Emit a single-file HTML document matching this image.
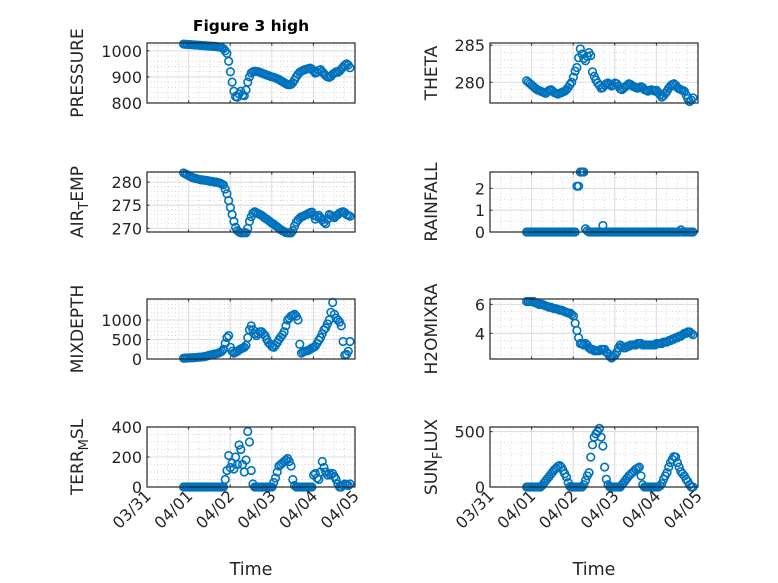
<!DOCTYPE html>
<html><head><meta charset="utf-8"><style>
html,body{margin:0;padding:0;background:#fff;}
svg{display:block;font-family:"DejaVu Sans","Liberation Sans",sans-serif;}
</style></head><body>
<svg id="fig" width="778" height="583" viewBox="0 0 778 583" xmlns="http://www.w3.org/2000/svg">
<rect width="778" height="583" fill="#fff"/>
<text x="251" y="31" text-anchor="middle" font-size="15.5" font-weight="bold" fill="#000">Figure 3 high</text>
</svg>
<script>
const xTickLabels = ["03/31","04/01","04/02","04/03","04/04","04/05"];
const tStart = 0.88;
const pressure = [1026,1025,1025,1024,1024,1023,1023,1022,1022,1021,1021,1020,
1020,1019,1019,1018,1018,1017,1017,1016,1015,1014,1012,1008,
1000,990,960,920,880,845,825,822,835,845,830,828,
850,880,900,915,920,922,921,920,918,915,912,910,
907,905,902,900,898,896,893,890,886,882,878,874,
871,870,872,878,888,900,910,918,922,925,928,930,
932,934,930,922,915,918,925,928,920,912,905,900,
898,902,910,915,920,918,922,930,938,945,950,945,935];
const theta = [280.2,280.0,279.8,279.6,279.4,279.2,279.0,278.9,278.8,278.7,278.6,278.5,
278.7,278.9,279.0,278.8,278.6,278.5,278.4,278.5,278.6,278.7,278.8,279.0,
279.3,279.7,280.0,280.7,281.5,282.0,283.3,284.5,283.8,283.2,282.9,283.5,
284.0,283.6,281.4,280.8,280.3,279.9,279.6,279.2,279.3,279.6,279.8,279.9,
279.7,279.5,279.6,279.9,279.8,279.5,279.1,279.0,279.2,279.4,279.6,279.8,
279.7,279.5,279.4,279.3,279.2,279.3,279.4,279.3,279.0,278.9,278.8,278.9,
279.0,278.9,278.8,278.9,278.6,278.3,278.0,278.2,278.5,278.8,279.2,279.5,
279.7,279.8,279.6,279.3,279.1,279.0,278.9,278.8,278.3,277.8,277.4,277.6,277.9];
const airTemp = [282.0,281.8,281.6,281.4,281.2,281.0,280.9,280.8,280.7,280.6,280.5,280.5,
280.4,280.4,280.3,280.2,280.2,280.1,280.0,280.0,279.9,279.8,279.6,279.4,
278.5,277.5,276.0,274.5,273.0,271.5,270.2,269.5,269.2,269.0,269.0,269.1,
269.0,270.0,271.5,272.5,273.3,273.6,273.4,273.2,273.0,272.8,272.5,272.2,
272.0,271.7,271.4,271.1,270.9,270.6,270.3,270.0,269.7,269.5,269.3,269.1,
269.0,269.0,269.0,269.5,270.5,271.3,271.8,272.2,272.5,272.6,272.8,273.0,
273.2,273.4,273.5,272.8,272.0,272.5,272.8,272.3,271.8,271.3,271.0,272.0,
273.0,272.8,272.5,272.3,272.7,273.0,273.3,273.5,273.6,273.4,273.0,272.8,272.6];
const rainfall = [0,0,0,0,0,0,0,0,0,0,0,0,
0,0,0,0,0,0,0,0,0,0,0,0,
0,0,0,0,0,2.1,2.1,2.75,2.75,2.75,0.15,0.05,
0,0,0,0,0,0,0,0,0.3,0,0,0,
0,0,0,0,0,0,0,0,0,0,0,0,
0,0,0,0,0,0,0,0,0,0,0,0,
0,0,0,0,0,0,0,0,0,0,0,0,
0,0,0,0,0,0.1,0,0,0,0,0,0,0];
const mixDepth = [20,22,25,28,30,33,36,40,43,46,50,55,
60,70,85,100,110,120,130,140,150,170,200,250,
400,550,600,300,200,150,170,200,230,260,280,300,
350,550,750,850,750,650,600,650,700,700,650,600,
500,420,380,320,300,350,420,500,560,620,700,850,
1000,1050,1100,1120,1150,1100,1000,380,150,180,200,210,
220,250,280,300,330,400,480,550,650,750,800,900,
1000,1200,1450,1150,1050,1000,950,850,450,100,120,200,450];
const h2oMix = [6.2,6.2,6.2,6.2,6.2,6.1,6.1,6.0,6.0,6.0,5.95,5.9,
5.85,5.8,5.8,5.75,5.7,5.7,5.65,5.6,5.6,5.55,5.5,5.45,
5.4,5.4,5.3,5.2,4.7,4.2,3.7,3.3,3.3,3.2,3.3,3.2,
3.0,2.9,2.9,2.8,2.8,2.8,2.8,2.9,2.9,2.9,2.7,2.6,
2.4,2.3,2.4,2.5,2.7,3.0,3.2,3.1,3.0,3.0,3.1,3.1,
3.2,3.2,3.2,3.2,3.3,3.3,3.3,3.2,3.2,3.2,3.2,3.2,
3.2,3.2,3.2,3.3,3.3,3.3,3.3,3.4,3.4,3.4,3.5,3.5,
3.6,3.6,3.7,3.7,3.8,3.8,3.9,4.0,4.0,4.1,4.1,4.0,3.9];
const terrMsl = [0,0,0,0,0,0,0,0,0,0,0,0,
0,0,0,0,0,0,0,0,0,0,0,0,
50,110,210,130,160,120,200,150,280,250,150,100,
180,370,300,110,20,0,0,0,0,0,0,0,
0,0,0,0,30,60,100,140,150,160,170,180,
190,170,140,50,10,0,0,0,0,0,0,0,
0,0,0,80,90,60,50,100,170,130,100,80,
90,80,90,70,50,20,0,0,10,20,15,10,20];
const sunFlux = [0,0,0,0,0,0,0,0,0,15,35,55,
75,95,115,135,155,170,185,195,180,150,120,90,
40,5,0,0,0,0,0,0,0,20,60,100,
130,270,380,450,480,500,530,450,370,180,70,20,
0,0,0,0,0,0,0,20,40,60,80,100,
115,130,145,160,170,180,100,20,0,0,0,0,
0,0,0,0,0,10,30,70,100,130,180,220,
250,275,270,220,180,140,120,100,70,50,20,0,0];

const pressureTicks=[800,900,1000], thetaTicks=[280,285], airTicks=[270,275,280], rainTicks=[0,1,2],
      mixTicks=[0,500,1000], h2oTicks=[4,6], terrTicks=[0,200,400], sunTicks=[0,500];

const NS="http://www.w3.org/2000/svg";
const svg=document.getElementById('fig');
function mk(tag,attrs,parent){const e=document.createElementNS(NS,tag);for(const k in attrs)e.setAttribute(k,attrs[k]);(parent||svg).appendChild(e);return e;}

const panels=[
 {key:'pressure',vals:pressure,ticks:pressureTicks,yl:[800,1030],minor:20,x:147,y:43,lab:['PRESSURE']},
 {key:'theta',vals:theta,ticks:thetaTicks,yl:[277.2,285.3],minor:1,x:490,y:43,lab:['THETA']},
 {key:'air-temp',vals:airTemp,ticks:airTicks,yl:[269.2,282.2],minor:1,x:147,y:172,lab:['AIR','T','EMP']},
 {key:'rainfall',vals:rainfall,ticks:rainTicks,yl:[0,2.75],minor:0.5,x:490,y:172,lab:['RAINFALL']},
 {key:'mixdepth',vals:mixDepth,ticks:mixTicks,yl:[0,1540],minor:100,x:147,y:299,lab:['MIXDEPTH']},
 {key:'h2omixra',vals:h2oMix,ticks:h2oTicks,yl:[2.23,6.37],minor:0.5,x:490,y:299,lab:['H2OMIXRA']},
 {key:'terr-msl',vals:terrMsl,ticks:terrTicks,yl:[0,400],minor:50,x:147,y:427,lab:['TERR','M','SL']},
 {key:'sun-flux',vals:sunFlux,ticks:sunTicks,yl:[0,542],minor:100,x:490,y:427,lab:['SUN','F','LUX']}
];
const W=208,H=60;
panels.forEach((p,pi)=>{
  const g=mk('g',{});
  
  
  const xs=t=>p.x+t/5*W;
  const ys=v=>p.y+H-(v-p.yl[0])/(p.yl[1]-p.yl[0])*H;
  mk('rect',{x:p.x,y:p.y,width:W,height:H,fill:'#fff'},g);
  for(let t=0.25;t<5;t+=0.25){ if(Math.abs(t-Math.round(t))<1e-6)continue;
    mk('line',{x1:xs(t),x2:xs(t),y1:p.y,y2:p.y+H,stroke:'#c8c8c8','stroke-width':0.7,'stroke-dasharray':'1,2.5'},g);}
  for(let v=Math.ceil(p.yl[0]/p.minor)*p.minor;v<p.yl[1];v+=p.minor){
    mk('line',{x1:p.x,x2:p.x+W,y1:ys(v),y2:ys(v),stroke:'#c8c8c8','stroke-width':0.7,'stroke-dasharray':'1,2.5'},g);}
  for(let d=1;d<5;d++) mk('line',{x1:xs(d),x2:xs(d),y1:p.y,y2:p.y+H,stroke:'#dcdcdc','stroke-width':1},g);
  p.ticks.forEach(v=>{
    mk('line',{x1:p.x,x2:p.x+W,y1:ys(v),y2:ys(v),stroke:'#dcdcdc','stroke-width':1},g);
    const tl=mk('text',{x:p.x-5,y:ys(v)+6,'text-anchor':'end','font-size':16,fill:'#262626'},g);
    tl.textContent=v;
    
    
    mk('line',{x1:p.x,x2:p.x+2.5,y1:ys(v),y2:ys(v),stroke:'#262626'},g);
  });
  for(let d=0;d<=5;d++){
    mk('line',{x1:xs(d),x2:xs(d),y1:p.y+H,y2:p.y+H-2.5,stroke:'#262626'},g);
    mk('line',{x1:xs(d),x2:xs(d),y1:p.y,y2:p.y+2.5,stroke:'#262626'},g);
  }
  const mg=mk('g',{fill:'none',stroke:'#0072BD','stroke-width':1.6},g);
  
  
  p.vals.forEach((v,i)=>{
    const c=mk('circle',{cx:xs(tStart+i/24),cy:ys(v),r:3.8},mg);
    
    
  });
  mk('rect',{x:p.x,y:p.y,width:W,height:H,fill:'none',stroke:'#262626','stroke-width':1.2},g);
  const lx=p.x-(p.x<300?64:53);
  const yl=mk('text',{transform:`translate(${lx},${p.y+H/2}) rotate(-90)`,'text-anchor':'middle','font-size':17,fill:'#262626'},g);
  
  
  if(p.lab.length===1){yl.textContent=p.lab[0];}
  else{
    const a=mk('tspan',{},yl);a.textContent=p.lab[0];
    const b=mk('tspan',{dy:5,'font-size':13},yl);b.textContent=p.lab[1];
    const c=mk('tspan',{dy:-5},yl);c.textContent=p.lab[2];
  }
  if(pi>=6){
    xTickLabels.forEach((s,d)=>{
      const tx=mk('text',{transform:`translate(${xs(d)+5},${p.y+H+10}) rotate(-45)`,'text-anchor':'end','font-size':16,fill:'#262626'},g);
      tx.textContent=s;
      
      
    });
    const xt=mk('text',{x:p.x+W/2,y:575,'text-anchor':'middle','font-size':17.5,fill:'#262626'},g);
    xt.textContent='Time';
    
    
  }
});
</script>
</body></html>
